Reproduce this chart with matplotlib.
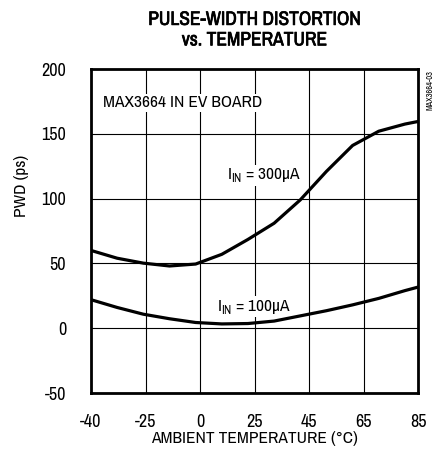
import matplotlib.pyplot as plt
import matplotlib.patheffects as pe
import numpy as np

plt.rcParams['font.family'] = ['Archivo Narrow', 'DejaVu Sans']
plt.rcParams['mathtext.fontset'] = 'custom'
plt.rcParams['mathtext.rm'] = 'Archivo Narrow'
plt.rcParams['axes.unicode_minus'] = False

# grid columns are evenly spaced, labels are not
xtick_labels = ['-40', '-25', '0', '25', '45', '65', '85']
yticks = [-50, 0, 50, 100, 150, 200]

temp = [-40, -30, -20, -10, 0, 10, 20, 30, 40, 50, 60, 70, 80, 85]
pwd_300 = [60, 54, 50.2, 48, 49.5, 57, 68.5, 81, 99, 121, 141, 152, 157.5, 159.5]
pwd_100 = [22, 16, 10.8, 7.3, 4.4, 3.3, 3.6, 5.5, 9.5, 13.5, 18, 23, 29, 31.7]

fig = plt.figure(figsize=(4.4, 4.58), dpi=100)
ax = fig.add_axes([91/440, 65/458, 327/440, 324/458])

ax.plot(temp, pwd_300, color='black', lw=2.3, zorder=5)
ax.plot(temp, pwd_100, color='black', lw=2.3, zorder=5)

ax.set_xlim(-40, 85)
ax.set_ylim(-50, 200)
ax.set_xticks(np.linspace(-40, 85, 7))
ax.set_xticklabels(xtick_labels)
ax.set_yticks(yticks)
ax.tick_params(length=0, labelsize=13, pad=15)
ax.tick_params(axis='y', pad=18)
ax.grid(True, color='black', lw=0.8)
for s in ax.spines.values():
    s.set_linewidth(2)
    s.set_zorder(6)

ax.set_xlabel('AMBIENT TEMPERATURE (°C)', fontsize=12.5, labelpad=1)
ax.set_ylabel('PWD (ps)', fontsize=12.5)
ax.yaxis.set_label_coords(-0.19, 0.64)

title = ax.set_title('PULSE-WIDTH DISTORTION\nvs. TEMPERATURE', fontsize=14, pad=17, linespacing=1.1)
title.set_path_effects([pe.withStroke(linewidth=0.5, foreground='black')])

box = dict(facecolor='white', edgecolor='none', pad=1)
ax.text(-35.5, 174, 'MAX3664 IN EV BOARD', fontsize=12.5, va='center', ha='left', bbox=box)
ax.text(12, 118, r'I$_{\mathrm{IN}}$ = 300µA', fontsize=12.5, va='center', ha='left', bbox=box)
ax.text(8, 16.5, r'I$_{\mathrm{IN}}$ = 100µA', fontsize=12.5, va='center', ha='left', bbox=box)

fig.text(430/440, 1 - 70/458, 'MAX3664-03', fontsize=6, rotation=90, ha='center', va='top')

fig.savefig('out.png', dpi=100)
